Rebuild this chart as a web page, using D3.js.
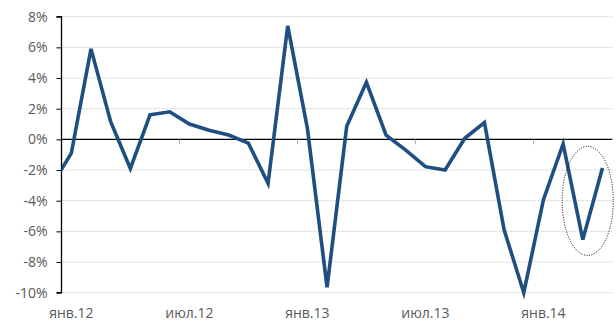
<!DOCTYPE html>
<html><head><meta charset="utf-8">
<script src="https://cdn.jsdelivr.net/npm/d3@7"></script>
<style>body{margin:0;background:#fff}svg{display:block}text{font-family:"Open Sans","DejaVu Sans",sans-serif;fill:#595959}</style>
</head><body><svg id="c" width="616" height="322"></svg>
<script>
// categories (the first, дек.11, lies half a step left of the plot and is clipped)
const categories = ["дек.11","янв.12","фев.12","мар.12","апр.12","май.12","июн.12","июл.12","авг.12","сен.12","окт.12","ноя.12","дек.12",
  "янв.13","фев.13","мар.13","апр.13","май.13","июн.13","июл.13","авг.13","сен.13","окт.13","ноя.13","дек.13",
  "янв.14","фев.14","мар.14","апр.14"];
const values = [-3.0,-0.9,5.9,1.15,-1.9,1.6,1.8,1.0,0.6,0.28,-0.25,-2.87,7.4,
  0.72,-9.65,0.85,3.72,0.28,-0.7,-1.78,-2.0,0.07,1.1,-5.9,-10.0,
  -3.93,-0.3,-6.54,-1.87];
const xTickLabels = ["янв.12","июл.12","янв.13","июл.13","янв.14"];
const yTicks = [8,6,4,2,0,-2,-4,-6,-8,-10];
const highlight = {from:"фев.14", to:"апр.14", top:-0.46, bottom:-7.57};

const svg = d3.select("#c");
const L = 61.5, R = 612.3, T = 16.7, B = 292.7;
const x = d3.scaleLinear().domain([0.5, categories.length - 0.5]).range([L, R]);
const y = d3.scaleLinear().domain([-10, 8]).range([B, T]);
const idx = c => categories.indexOf(c);

// gridlines
svg.append("g").selectAll("line").data(yTicks.filter(d => d !== 0)).join("line")
  .attr("x1", L).attr("x2", R).attr("y1", d => y(d)).attr("y2", d => y(d))
  .attr("stroke", "#d9d9d9").attr("stroke-width", 1).attr("stroke-dasharray", "3,1");

// y axis
const yAxis = svg.append("g").attr("transform", `translate(${L},0)`)
  .call(d3.axisLeft(y).tickValues(yTicks).tickSize(5).tickFormat(d => d + "%"));
yAxis.select(".domain").attr("stroke", "#000").attr("stroke-width", 1.3).attr("d", `M-5,${y(8)}H0V${y(-10)}H-5`);
yAxis.selectAll(".tick line").attr("stroke", "#000");
yAxis.selectAll(".tick text").attr("x", -14).style("font-size", "14px").attr("fill", "#595959");

// zero axis with tick marks every 6 categories
const zero = svg.append("g");
zero.append("line").attr("x1", L).attr("x2", R).attr("y1", y(0)).attr("y2", y(0)).attr("stroke", "#000").attr("stroke-width", 1.3);
const boundaries = d3.range(1, categories.length, 6).map(i => i - 0.5).filter(v => v > 0.5);
zero.selectAll(".t").data(boundaries).join("line").attr("class","t")
  .attr("x1", d => x(d)).attr("x2", d => x(d)).attr("y1", y(0)).attr("y2", y(0) + 5)
  .attr("stroke", "#a6a6a6").attr("stroke-width", 1);

// x labels
svg.append("g").selectAll("text").data(xTickLabels).join("text")
  .attr("x", d => x(idx(d))).attr("y", 318).attr("text-anchor", "middle")
  .style("font-size", "14px").text(d => d);

// line
svg.append("clipPath").attr("id", "clip").append("rect")
  .attr("x", L).attr("y", 0).attr("width", R - L + 10).attr("height", 322);
const line = d3.line().x((d, i) => x(i)).y(d => y(d));
svg.append("path").datum(values).attr("d", line).attr("clip-path", "url(#clip)")
  .attr("fill", "none").attr("stroke", "#1f4e80").attr("stroke-width", 3.6)
  .attr("stroke-linejoin", "miter").attr("stroke-linecap", "butt");

// dotted ellipse
const ex1 = x(idx(highlight.from) - 0.05), ex2 = x(idx(highlight.to) + 0.55);
svg.append("ellipse").attr("cx", (ex1 + ex2) / 2).attr("cy", (y(highlight.top) + y(highlight.bottom)) / 2)
  .attr("rx", (ex2 - ex1) / 2).attr("ry", (y(highlight.bottom) - y(highlight.top)) / 2)
  .attr("fill", "none").attr("stroke", "#000").attr("stroke-width", 1).attr("stroke-dasharray", "1,1.5");
</script></body></html>
